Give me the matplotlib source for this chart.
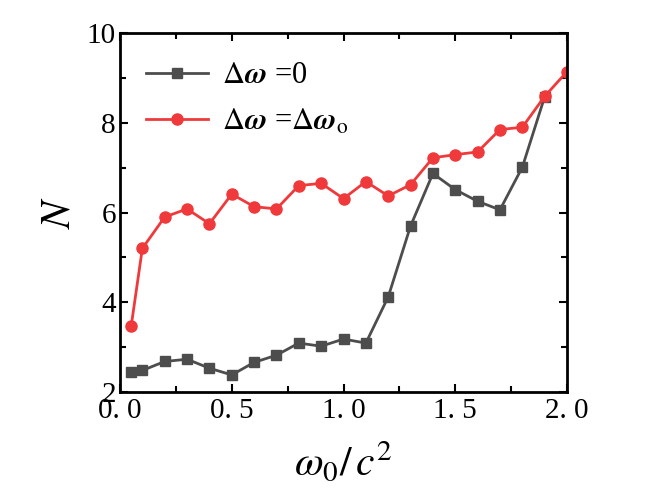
import numpy as np
import matplotlib.pyplot as plt
from matplotlib.ticker import MultipleLocator

plt.rcParams['font.family'] = ['Liberation Serif', 'DejaVu Serif']
plt.rcParams['mathtext.fontset'] = 'stix'

# data
x_zero = [0.05, 0.1, 0.2, 0.3, 0.4, 0.5, 0.6, 0.7, 0.8, 0.9, 1.0,
          1.1, 1.2, 1.3, 1.4, 1.5, 1.6, 1.7, 1.8, 1.9]
n_zero = [2.45, 2.48, 2.68, 2.73, 2.53, 2.38, 2.66, 2.82, 3.09, 3.02, 3.18,
          3.09, 4.12, 5.70, 6.87, 6.51, 6.25, 6.06, 7.01, 8.58]

x_d0 = [0.05, 0.1, 0.2, 0.3, 0.4, 0.5, 0.6, 0.7, 0.8, 0.9, 1.0,
        1.1, 1.2, 1.3, 1.4, 1.5, 1.6, 1.7, 1.8, 1.9, 2.0]
n_d0 = [3.47, 5.20, 5.90, 6.08, 5.75, 6.41, 6.13, 6.08, 6.60, 6.65, 6.31,
        6.69, 6.37, 6.62, 7.22, 7.29, 7.35, 7.85, 7.90, 8.59, 9.14]

xticks = [0.0, 0.5, 1.0, 1.5, 2.0]
xticklabels = ['0. 0', '0. 5', '1. 0', '1. 5', '2. 0']
yticks = [2, 4, 6, 8, 10]

fig = plt.figure(figsize=(6.54, 5.01), dpi=100)
ax = fig.add_axes([0.1835, 0.2176, 0.6835, 0.7164])

ax.plot(x_zero, n_zero, color='#4d4d4d', lw=2, marker='s', ms=7,
        label=r'$\Delta\boldsymbol{\omega}$ =0')
ax.plot(x_d0, n_d0, color='#f0393b', lw=2, marker='o', ms=8,
        label=r'$\Delta\boldsymbol{\omega}$ =$\Delta\boldsymbol{\omega}_{\mathrm{o}}$')

ax.set_xlim(0, 2)
ax.set_ylim(2, 10)
ax.set_xticks(xticks)
ax.set_xticklabels(xticklabels)
ax.set_yticks(yticks)
ax.xaxis.set_minor_locator(MultipleLocator(0.25))
ax.yaxis.set_minor_locator(MultipleLocator(1))
ax.tick_params(which='both', direction='in', top=True, right=True,
               labelsize=21, width=1.5)
ax.tick_params(which='major', length=6)
ax.tick_params(axis='x', which='major', pad=4)
ax.tick_params(axis='y', which='major', pad=3)
ax.tick_params(which='minor', length=4)
for s in ax.spines.values():
    s.set_linewidth(2)

ax.set_ylabel(r'$N$', fontsize=30, labelpad=6)
ax.set_xlabel(r'$\omega_0/\,c^2$', fontsize=30, labelpad=12)

ax.legend(loc='upper left', bbox_to_anchor=(0.03, 0.955), frameon=False,
          fontsize=22, handlelength=2.05, handletextpad=0.45,
          borderaxespad=0, borderpad=0.4, labelspacing=0.55)

fig.savefig('out.png', dpi=100)
